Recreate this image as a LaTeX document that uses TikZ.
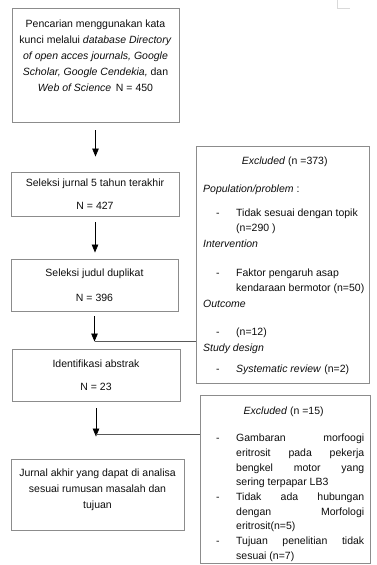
\documentclass[tikz,border=0pt]{standalone}
\usepackage{fontspec}
\setmainfont{Liberation Sans}
\usetikzlibrary{arrows.meta,positioning}

\tikzset{
  stage/.style={draw=black!45, line width=0.9pt, inner sep=0pt, align=center, text=black!95},
  exclbox/.style={draw=black!45, line width=0.9pt, inner sep=0pt},
  exclnote/.style={inner sep=0pt, anchor=base west, text=black!95},
  flow/.style={-{Triangle[width=6.5pt,length=8pt]}, line width=0.8pt},
  feed/.style={draw=black!65, line width=1pt},
}
\newcommand{\toptext}[2]{\parbox[c][#1][t]{164pt}{\centering\baselineskip=16pt #2}}
\newcommand{\dashline}{\hspace*{13pt}\makebox[20pt][l]{-}}

\begin{document}
\begin{tikzpicture}[x=1pt, y=-1pt, font=\fontsize{10.5}{15}\selectfont]
  \useasboundingbox (0,0) rectangle (376,565);

  % main flow
  \node[stage, minimum width=167pt, minimum height=114pt] (search) at (95.5,65)
    {\toptext{91pt}{Pencarian menggunakan kata\\
      kunci melalui \textit{database Directory}\\
      \textit{of open acces journals, Google}\\
      \textit{Scholar, Google Cendekia,} dan\\
      \textit{Web of Science}\, N = 450}};
  \node[stage, minimum width=168pt, minimum height=44pt] (recent) at (95,194)
    {Seleksi jurnal 5 tahun terakhir\\[8pt] N = 427};
  \node[stage, minimum width=167pt, minimum height=52pt] (duplicate) at (94.5,285)
    {Seleksi judul duplikat\\[10pt] N = 396};
  \node[stage, minimum width=168pt, minimum height=52pt] (abstract) at (96,375)
    {Identifikasi abstrak\\[8pt] N = 23};
  \node[stage, minimum width=173pt, minimum height=71pt] (final) at (97.5,494.5)
    {\toptext{52pt}{Jurnal akhir yang dapat di analisa\\
      sesuai rumusan masalah dan\\ tujuan}};

  \draw[flow, shorten <=8pt, shorten >=15pt] (search.south) -- (search.south |- recent.north);
  \draw[flow, shorten <=6pt, shorten >=6pt] (recent.south) -- (recent.south |- duplicate.north);
  \draw[flow, shorten <=5pt, shorten >=7pt] (duplicate.south) -- (duplicate.south |- abstract.north);
  \draw[flow, shorten <=7pt, shorten >=22pt] (abstract.south) -- (abstract.south |- final.north);

  % excluded records
  \node[exclbox, minimum width=173pt, minimum height=237pt] (exclA) at (282.5,264.5) {};
  \node[exclnote] (exclAtext) at (203,164) {\parbox[t]{163pt}{%
    \makebox[\linewidth][c]{\textit{Excluded} (n =373)}\\[13pt]
    \textit{Population/problem} :\\[9pt]
    \dashline Tidak sesuai dengan topik\\
    \hspace*{33pt}(n=290 )\\[1pt]
    \textit{Intervention}\\[14pt]
    \dashline Faktor pengaruh asap\\
    \hspace*{33pt}kendaraan bermotor (n=50)\\[1pt]
    \textit{Outcome}\\[13pt]
    \dashline (n=12)\\[1pt]
    \textit{Study design}\\[6pt]
    \dashline \textit{Systematic review} (n=2)}};

  \node[exclbox, minimum width=170pt, minimum height=168pt] (exclB) at (285,479) {};
  \node[exclnote] (exclBtext) at (203,414) {\parbox[t]{161pt}{%
    \makebox[\linewidth][c]{\textit{Excluded} (n =15)}\par
    \vspace{13pt}\baselineskip=14.7pt
    \noindent\hangindent=33pt\hangafter=1\dashline Gambaran morfoogi\linebreak
      eritrosit pada pekerja\linebreak bengkel motor yang\linebreak
      sering terpapar LB3\par
    \noindent\hangindent=33pt\hangafter=1\dashline Tidak ada hubungan\linebreak
      dengan Morfologi\linebreak eritrosit(n=5)\par
    \noindent\hangindent=33pt\hangafter=1\dashline Tujuan penelitian tidak\linebreak
      sesuai (n=7)\par}};

  \coordinate (joinA) at (95,341);
  \coordinate (joinB) at (96,434);
  \draw[feed] (exclA.west |- joinA) -- (joinA);
  \draw[feed] (exclB.west |- joinB) -- (joinB);

  % page corner mark
  \draw[black!15, line width=0.8pt] (337,0) -- (337,8) -- (350,8);
\end{tikzpicture}
\end{document}
